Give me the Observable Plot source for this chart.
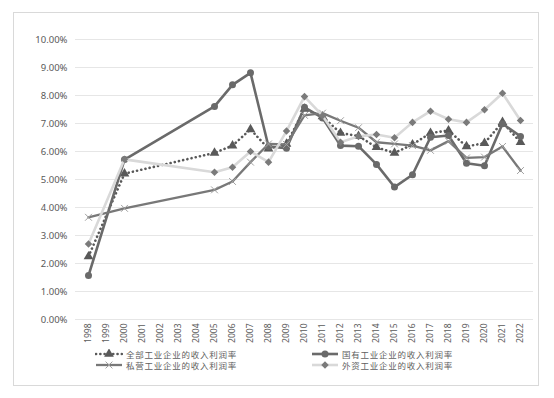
<!DOCTYPE html>
<html><head><meta charset="utf-8">
<script src="https://cdn.jsdelivr.net/npm/d3@7"></script>
<script src="https://cdn.jsdelivr.net/npm/@observablehq/plot@0.6"></script>
<style>
body{margin:0;background:#fff;}
#wrap{position:relative;width:554px;height:398px;overflow:hidden;font-family:"Noto Sans","Noto Sans CJK SC",sans-serif;}
#chart{position:absolute;left:0;top:0;}
#frame{position:absolute;left:13px;top:12px;width:524px;height:372px;border:1px solid #d9d9d9;pointer-events:none;}
#legend{position:absolute;left:0;top:349px;width:554px;font-family:"Noto Sans CJK SC",sans-serif;font-size:8.5px;line-height:10px;color:#606060;}
.item{position:absolute;display:flex;align-items:center;height:10px;white-space:nowrap;letter-spacing:0.75px;}
.item svg{margin-right:3px;}
</style></head>
<body><div id="wrap"><div id="chart"></div><div id="legend"></div><div id="frame"></div></div>
<script>
const allYears = ["1998","1999","2000","2001","2002","2003","2004","2005","2006","2007","2008","2009","2010","2011","2012","2013","2014","2015","2016","2017","2018","2019","2020","2021","2022"];
const dataYears = ["1998","2000","2005","2006","2007","2008","2009","2010","2011","2012","2013","2014","2015","2016","2017","2018","2019","2020","2021","2022"];
const seriesNames = ["全部工业企业的收入利润率","国有工业企业的收入利润率","私营工业企业的收入利润率","外资工业企业的收入利润率"];
const allValues     = [2.25,5.21,5.95,6.21,6.79,6.10,6.27,7.52,7.25,6.66,6.55,6.15,5.95,6.25,6.66,6.75,6.18,6.30,7.05,6.33];
const stateValues   = [1.57,5.71,7.61,8.38,8.81,6.18,6.12,7.58,7.20,6.21,6.19,5.54,4.73,5.17,6.51,6.57,5.58,5.49,6.99,6.54];
const privateValues = [3.65,3.97,4.63,4.93,5.62,6.27,6.25,7.29,7.37,7.10,6.85,6.33,6.27,6.21,6.04,6.37,5.77,5.80,6.18,5.32];
const foreignValues = [2.70,5.72,5.26,5.44,6.00,5.62,6.73,7.96,7.28,6.33,6.54,6.61,6.49,7.04,7.44,7.15,7.04,7.49,8.08,7.11];
const yTicks = [0,1,2,3,4,5,6,7,8,9,10];

const toRows = vals => dataYears.map((y,i)=>({year:y, value:vals[i]}));
const sAll = toRows(allValues), sState = toRows(stateValues), sPrivate = toRows(privateValues), sForeign = toRows(foreignValues);

const styles = [
  {line:{stroke:"#595959",strokeWidth:2.6,strokeDasharray:"0.1,4.2",strokeLinecap:"round"}, dot:{symbol:"triangle",r:3.6,fill:"#595959"}},
  {line:{stroke:"#6a6a6a",strokeWidth:2.6}, dot:{symbol:"circle",r:3.5,fill:"#6a6a6a"}},
  {line:{stroke:"#787878",strokeWidth:2.3}, dot:{symbol:"times",r:3.2,stroke:"#a0a0a0",strokeWidth:1}},
  {line:{stroke:"#d9d9d9",strokeWidth:2.6}, dot:{symbol:"diamond2",r:3.4,fill:"#7a7a7a"}}
];
const datasets = [sAll, sState, sPrivate, sForeign];

const marks = [
  Plot.ruleY(yTicks, {stroke:"#e6e6e6", strokeWidth:1}),
  Plot.axisY({ticks:yTicks, tickFormat:d=>d.toFixed(2)+"%", tickSize:0, tickPadding:8, fill:"#595959", fontSize:9.5, label:null}),
  Plot.axisX({ticks:allYears, tickRotate:-90, tickSize:0, tickPadding:4, fill:"#595959", fontSize:8.5, label:null})
];
datasets.forEach((d,i)=>{
  marks.push(Plot.line(d,{x:"year",y:"value",...styles[i].line}));
  const ds = styles[i].dot;
  marks.push(Plot.dot(d,{x:"year",y:"value",...ds, stroke: ds.stroke||"none"}));
});

const chart = Plot.plot({
  width:554, height:398,
  marginLeft:75, marginRight:21, marginTop:39, marginBottom:79,
  style:{fontFamily:"Noto Sans, Noto Sans CJK SC, sans-serif", background:"transparent"},
  x:{type:"point", domain:allYears, padding:0.5, axis:null, label:null},
  y:{domain:[0,10], axis:null, label:null},
  marks
});
document.getElementById("chart").appendChild(chart);

// legend
const legend = document.getElementById("legend");
const pos = [[95,0],[311,0],[95,11],[311,11]];
seriesNames.forEach((name,i)=>{
  const st = styles[i];
  const div = document.createElement("div");
  div.className="item";
  div.style.left = pos[i][0]+"px"; div.style.top = pos[i][1]+"px";
  const ns="http://www.w3.org/2000/svg";
  const svg=document.createElementNS(ns,"svg");
  svg.setAttribute("width",28); svg.setAttribute("height",10);
  const ln=document.createElementNS(ns,"line");
  ln.setAttribute("x1",1); ln.setAttribute("x2",27); ln.setAttribute("y1",5); ln.setAttribute("y2",5);
  ln.setAttribute("stroke",st.line.stroke); ln.setAttribute("stroke-width",st.line.strokeWidth);
  if(st.line.strokeDasharray){ln.setAttribute("stroke-dasharray",st.line.strokeDasharray); ln.setAttribute("stroke-linecap","round");}
  svg.appendChild(ln);
  const sym=document.createElementNS(ns,"path");
  const symMap={triangle:d3.symbolTriangle,circle:d3.symbolCircle,times:d3.symbolTimes,diamond2:d3.symbolDiamond2};
  sym.setAttribute("d", d3.symbol(symMap[st.dot.symbol], Math.PI*st.dot.r*st.dot.r)());
  sym.setAttribute("transform","translate(14,5)");
  sym.setAttribute("fill", st.dot.fill||"none");
  if(st.dot.stroke){sym.setAttribute("stroke",st.dot.stroke);sym.setAttribute("stroke-width",1);}
  svg.appendChild(sym);
  div.appendChild(svg);
  const sp=document.createElement("span"); sp.textContent=name; div.appendChild(sp);
  legend.appendChild(div);
});
</script></body></html>
